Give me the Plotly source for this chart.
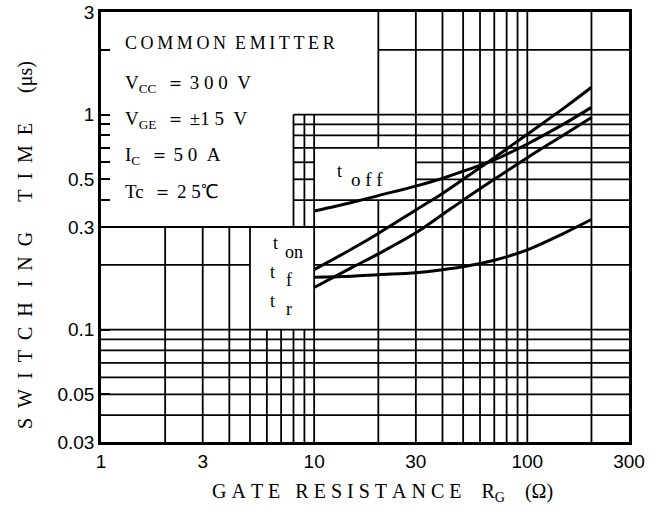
import math
import plotly.graph_objects as go

# ---------------- data ----------------
rg = [10, 15, 20, 30, 40, 50, 70, 100, 150, 200]
t_off = [0.356, 0.39, 0.42, 0.465, 0.505, 0.545, 0.615, 0.73, 0.91, 1.08]
t_on = [0.19, 0.237, 0.28, 0.36, 0.43, 0.50, 0.63, 0.81, 1.08, 1.34]
t_f = [0.157, 0.194, 0.225, 0.282, 0.343, 0.40, 0.50, 0.63, 0.81, 0.97]
t_r = [0.175, 0.177, 0.18, 0.184, 0.19, 0.196, 0.21, 0.235, 0.282, 0.325]

x_tick_vals = [1, 3, 10, 30, 100, 300]
x_tick_text = ["1", "3", "10", "30", "100", "300"]
y_tick_vals = [0.03, 0.05, 0.1, 0.3, 0.5, 1, 3]
y_tick_text = ["0.03", "0.05", "0.1", "0.3", "0.5", "1", "3"]
y_minor_ticks = [0.4, 0.6, 0.7, 0.8, 0.9, 2]

# ---------------- printed grid of the datasheet (segments) ----------------
v_grid = ([(x, 0.03, 0.3) for x in (2, 3, 4, 5)]
          + [(x, 0.03, 0.1) for x in (6, 7, 8, 9)]
          + [(x, 0.3, 1) for x in (8, 9)]
          + [(10, 0.03, 1), (20, 0.03, 0.4), (20, 0.7, 3)]
          + [(x, 0.03, 3) for x in (30, 40, 50, 60, 70, 80, 90, 100, 200)])
h_grid = ([(y, 1, 300) for y in (0.04, 0.05, 0.06, 0.07, 0.08, 0.09, 0.1, 0.3)]
          + [(0.2, 1, 5), (0.2, 10, 300), (0.4, 8, 300),
             (0.5, 8, 10), (0.5, 30, 300), (0.6, 8, 10), (0.6, 30, 300)]
          + [(y, 8, 300) for y in (0.7, 0.8, 0.9, 1)]
          + [(2, 20, 300)])

gx, gy = [], []
for x, y0, y1 in v_grid:
    gx += [x, x, None]
    gy += [y0, y1, None]
for y, x0, x1 in h_grid:
    gx += [x0, x1, None]
    gy += [y, y, None]

fig = go.Figure()
fig.add_trace(go.Scatter(x=gx, y=gy, mode="lines", line=dict(color="black", width=1.8),
                         hoverinfo="skip", showlegend=False))
for name, ys in (("t_off", t_off), ("t_on", t_on), ("t_f", t_f), ("t_r", t_r)):
    fig.add_trace(go.Scatter(x=rg, y=ys, name=name, mode="lines",
                             line=dict(color="black", width=3, shape="spline"),
                             showlegend=False))

L, R, T, B = 101, 36, 12, 73
W, H = 665, 515
PW, PH = W - L - R, H - T - B


def pxx(p):
    return (p - L) / PW


def pxy(p):
    return (H - B - p) / PH


SERIF = "Liberation Serif"
NB = "\u00a0"
TS = "\u2009"


def spaced(text, gap=NB, word=NB * 3):
    return word.join(gap.join(w) for w in text.split(" "))


ann = []


def add_text(txt, x, y, size=18, xanchor="left", angle=0):
    ann.append(dict(text=txt, x=pxx(x), y=pxy(y), xref="paper", yref="paper",
                    xanchor=xanchor, yanchor="middle", showarrow=False,
                    textangle=angle, font=dict(family=SERIF, size=size, color="black")))


EQ = NB * 2 + "＝" + NB
# condition box
add_text(spaced("COMMON EMITTER", TS, NB * 2), 123, 43, size=18)
add_text("V<sub>CC</sub>" + EQ + NB.join("300") + NB * 2 + "V", 123, 84, size=19)
add_text("V<sub>GE</sub>" + EQ + "±" + NB.join("15") + NB * 2 + "V", 123, 120, size=19)
add_text("I<sub>C</sub>" + EQ + NB.join("50") + NB * 2 + "A", 123, 156, size=19)
add_text("Tc" + EQ + NB.join("25") + "℃", 123, 191, size=19)

# curve labels (raised "t" followed by the subscript letters)
add_text("t", 335, 171, size=18)
add_text(NB.join("off"), 349, 179, size=19)
add_text("t", 271, 243, size=18)
add_text("on", 283, 252, size=18)
add_text("t", 268, 272, size=18)
add_text("f", 284, 280, size=18)
add_text("t", 268, 301, size=18)
add_text("r", 284, 309, size=18)

# axis titles
add_text(spaced("GATE RESISTANCE") + NB * 4 + "R<sub>G</sub>" + NB * 4 + "(Ω)", 382, 492,
         size=20, xanchor="center")
ytitle = (spaced("SWITCH", NB * 2) + NB * 3 + spaced("ING", NB * 2) + NB * 6
          + spaced("TIME", NB * 2) + NB * 6 + "(μs)")
ann.append(dict(text=ytitle, x=pxx(25), y=pxy(245), xref="paper", yref="paper",
                xanchor="center", yanchor="middle", showarrow=False, textangle=-90,
                font=dict(family=SERIF, size=20, color="black")))

fig.update_layout(
    width=W, height=H, template="none",
    margin=dict(l=L, r=R, t=T, b=B, pad=0),
    paper_bgcolor="white", plot_bgcolor="white",
    annotations=ann,
    xaxis=dict(type="log", range=[0, math.log10(300)], showgrid=False, zeroline=False,
               showline=True, mirror=True, linecolor="black", linewidth=2.5,
               ticks="", tickvals=x_tick_vals, ticktext=x_tick_text, automargin=False,
               tickfont=dict(family="Liberation Sans", size=19, color="black")),
    yaxis=dict(type="log", range=[math.log10(0.03), math.log10(3)], showgrid=False,
               zeroline=False, showline=True, mirror=True, linecolor="black", linewidth=2.5,
               ticks="inside", ticklen=9, tickwidth=1.8, tickcolor="black",
               tickvals=y_tick_vals + y_minor_ticks,
               ticktext=y_tick_text + [""] * len(y_minor_ticks), automargin=False,
               tickfont=dict(family="Liberation Sans", size=19, color="black")),
)

fig.write_html("out.html", config={"displayModeBar": False},
               post_script="document.body.style.margin='0px';"
                           "document.body.style.overflow='hidden';")
